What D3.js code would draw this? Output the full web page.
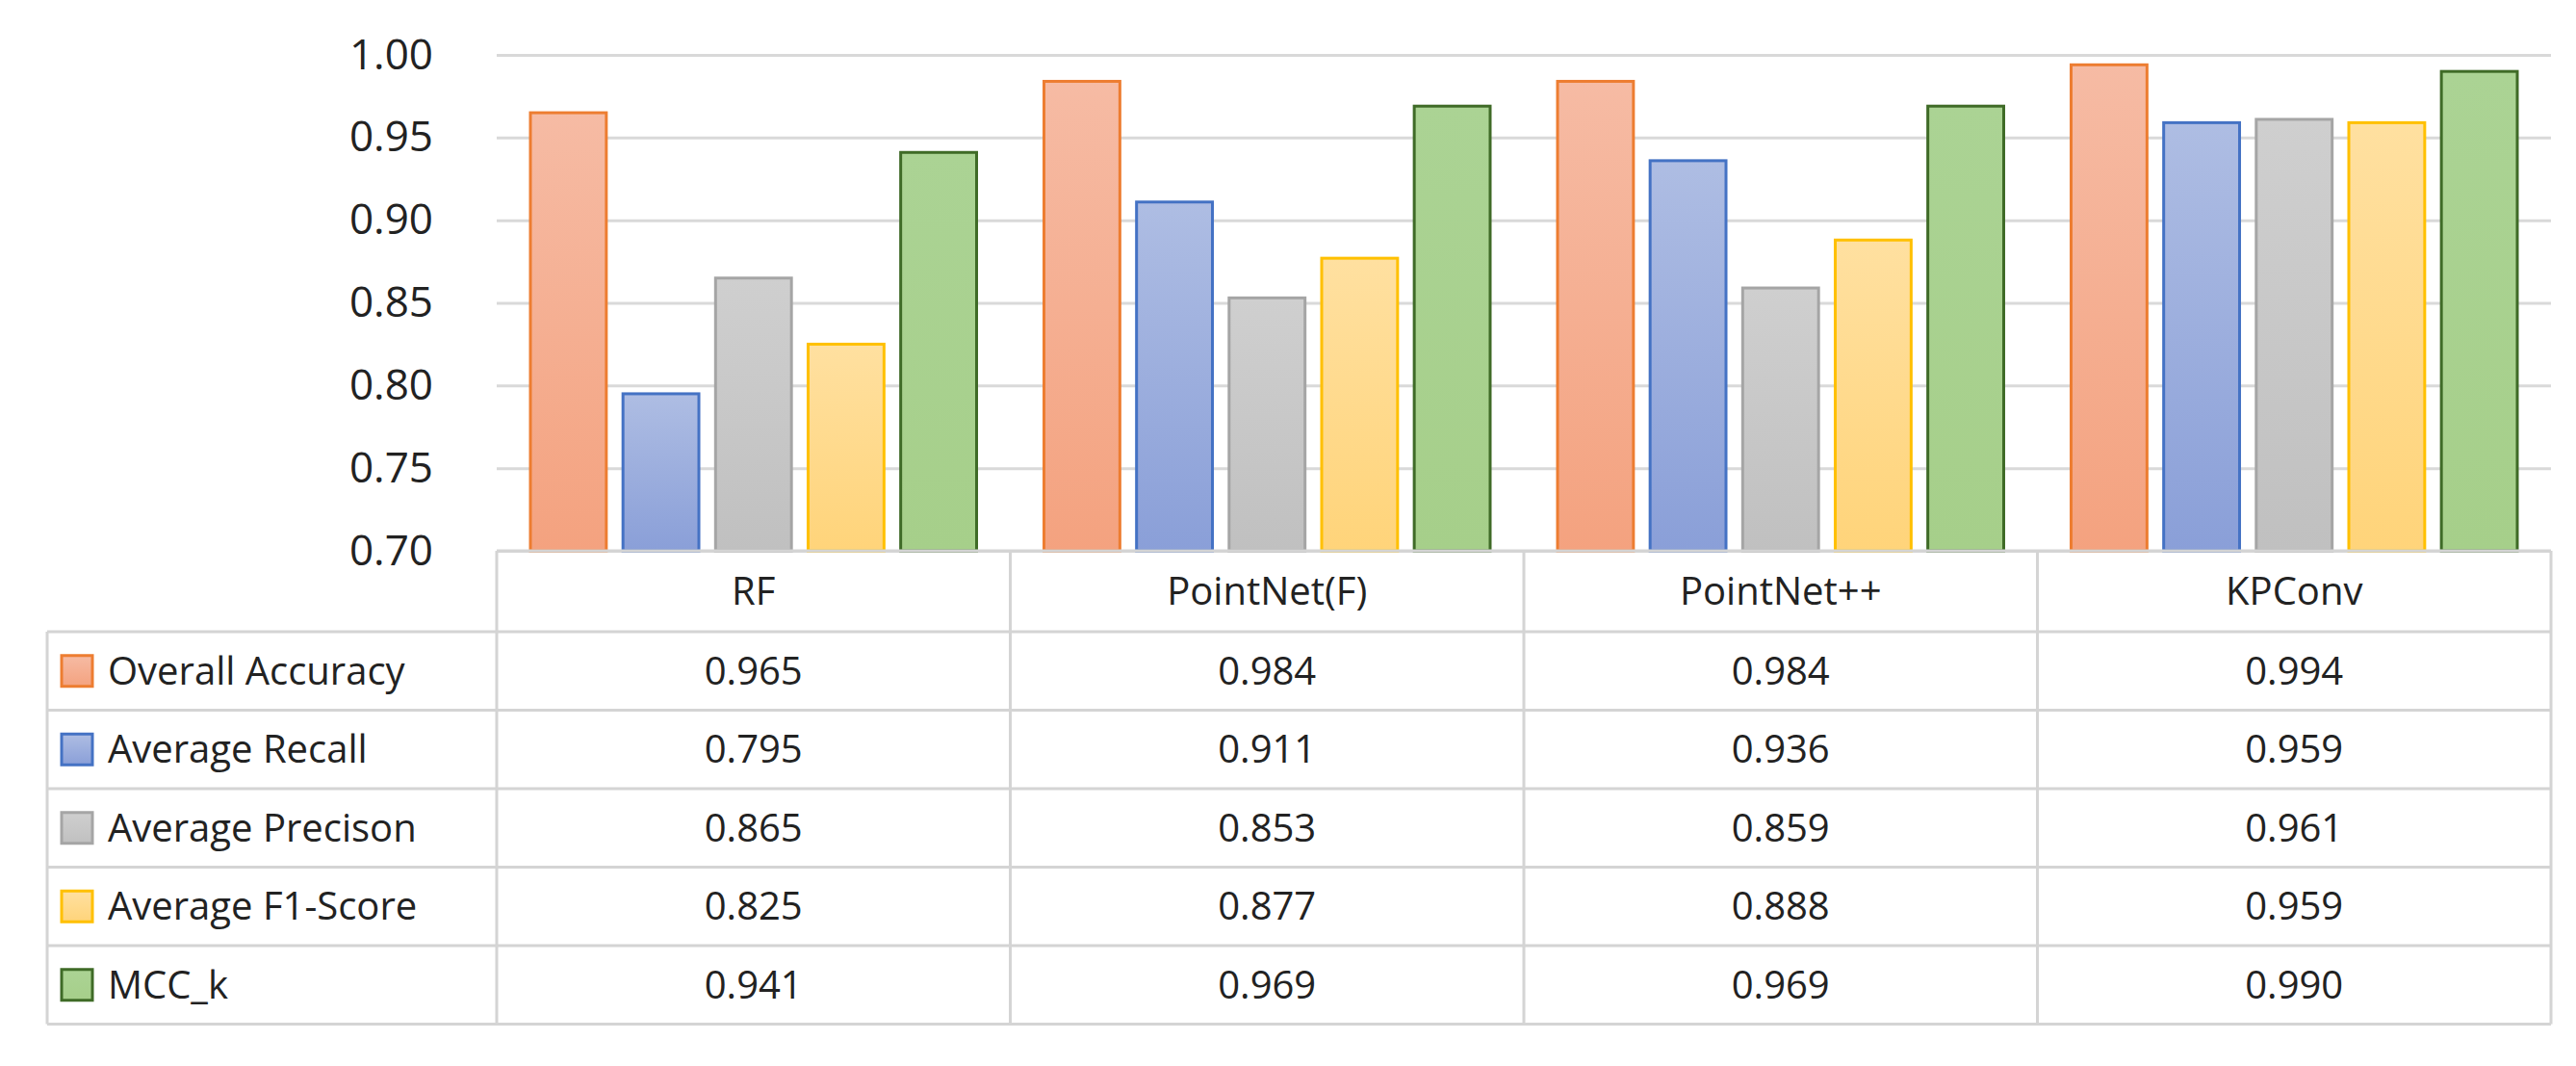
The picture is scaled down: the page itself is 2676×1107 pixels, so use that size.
<!DOCTYPE html>
<html><head><meta charset="utf-8">
<script src="https://cdn.jsdelivr.net/npm/d3@7"></script>
<style>body{margin:0;background:#fff}text{font-family:"Open Sans",sans-serif;fill:#222}</style>
</head><body><svg id="chart"></svg>
<script>
const categories = ["RF", "PointNet(F)", "PointNet++", "KPConv"];
const seriesNames = ["Overall Accuracy", "Average Recall", "Average Precison", "Average F1-Score", "MCC_k"];
const overallAccuracy = [0.965, 0.984, 0.984, 0.994];
const averageRecall = [0.795, 0.911, 0.936, 0.959];
const averagePrecision = [0.865, 0.853, 0.859, 0.961];
const averageF1 = [0.825, 0.877, 0.888, 0.959];
const mccK = [0.941, 0.969, 0.969, 0.990];
const yTicks = [0.70, 0.75, 0.80, 0.85, 0.90, 0.95, 1.00];

const series = [overallAccuracy, averageRecall, averagePrecision, averageF1, mccK];
const colors = [
    { top: "#f6bba4", bottom: "#f4a27f", stroke: "#ed7d31" },
    { top: "#aebde3", bottom: "#8a9fd8", stroke: "#4472c4" },
    { top: "#cfcfcf", bottom: "#c0c0c0", stroke: "#a5a5a5" },
    { top: "#ffe0a0", bottom: "#ffd47a", stroke: "#ffc000" },
    { top: "#abd394", bottom: "#a6cf8a", stroke: "#3f6b27" },
];

const W = 2676, H = 1107;
const plot = { left: 516, right: 2650, top: 57, bottom: 572 };
const tableLeft = 49, rowH = 81.5, headerBottom = 656;

const svg = d3.select("#chart").attr("width", W).attr("height", H);
const defs = svg.append("defs");
colors.forEach((c, i) => {
    const g = defs.append("linearGradient").attr("id", "g" + i)
        .attr("x1", 0).attr("y1", 0).attr("x2", 0).attr("y2", 1);
    g.append("stop").attr("offset", "0%").attr("stop-color", c.top);
    g.append("stop").attr("offset", "100%").attr("stop-color", c.bottom);
});

const x = d3.scaleBand().domain(categories).range([plot.left, plot.right]);
const x1 = d3.scaleBand().domain(d3.range(series.length)).range([35, x.bandwidth() - 35]).paddingInner(0.18);
const y = d3.scaleLinear().domain([0.70, 1.00]).range([plot.bottom, plot.top]);

// gridlines + y labels
svg.append("g").attr("transform", `translate(${plot.left},0)`)
    .call(d3.axisLeft(y).tickValues(yTicks).tickFormat(d3.format(".2f"))
        .tickSize(-(plot.right - plot.left)).tickPadding(66))
    .call(g => g.select(".domain").remove())
    .call(g => g.selectAll("line").attr("stroke", "#d9d9d9").attr("stroke-width", 3))
    .call(g => g.selectAll("text").attr("font-size", 44).attr("font-family", "Open Sans").attr("fill", "#222"));

// bars
categories.forEach((cat, ci) => {
    series.forEach((s, si) => {
        svg.append("rect")
            .attr("x", x(cat) + x1(si)).attr("width", x1.bandwidth())
            .attr("y", y(s[ci])).attr("height", plot.bottom - y(s[ci]))
            .attr("fill", `url(#g${si})`).attr("stroke", colors[si].stroke).attr("stroke-width", 3);
    });
});

// table
const tbl = svg.append("g").attr("stroke", "#d4d4d4").attr("stroke-width", 3);
const tableBottom = headerBottom + rowH * series.length;
tbl.append("line").attr("x1", plot.left).attr("x2", plot.right).attr("y1", plot.bottom).attr("y2", plot.bottom);
for (let r = 0; r <= series.length; r++) {
    const yy = headerBottom + r * rowH;
    tbl.append("line").attr("x1", tableLeft).attr("x2", plot.right).attr("y1", yy).attr("y2", yy);
}
tbl.append("line").attr("x1", tableLeft).attr("x2", tableLeft).attr("y1", headerBottom).attr("y2", tableBottom);
categories.concat([null]).forEach((cat, i) => {
    const xx = cat ? x(cat) : plot.right;
    tbl.append("line").attr("x1", xx).attr("x2", xx).attr("y1", plot.bottom).attr("y2", tableBottom);
});

categories.forEach(cat => {
    svg.append("text").attr("x", x(cat) + x.bandwidth() / 2).attr("y", (plot.bottom + headerBottom) / 2)
        .attr("dy", "0.35em").attr("text-anchor", "middle").attr("font-size", 40).text(cat);
});
series.forEach((s, si) => {
    const cy = headerBottom + rowH * (si + 0.5);
    svg.append("rect").attr("x", 64).attr("y", cy - 16).attr("width", 32).attr("height", 32)
        .attr("fill", `url(#g${si})`).attr("stroke", colors[si].stroke).attr("stroke-width", 3);
    svg.append("text").attr("x", 112).attr("y", cy).attr("dy", "0.35em").attr("font-size", 40)
        .attr("textLength", null).text(seriesNames[si]);
    categories.forEach((cat, ci) => {
        svg.append("text").attr("x", x(cat) + x.bandwidth() / 2).attr("y", cy).attr("dy", "0.35em")
            .attr("text-anchor", "middle").attr("font-size", 40).text(d3.format(".3f")(s[ci]));
    });
});
</script></body></html>
